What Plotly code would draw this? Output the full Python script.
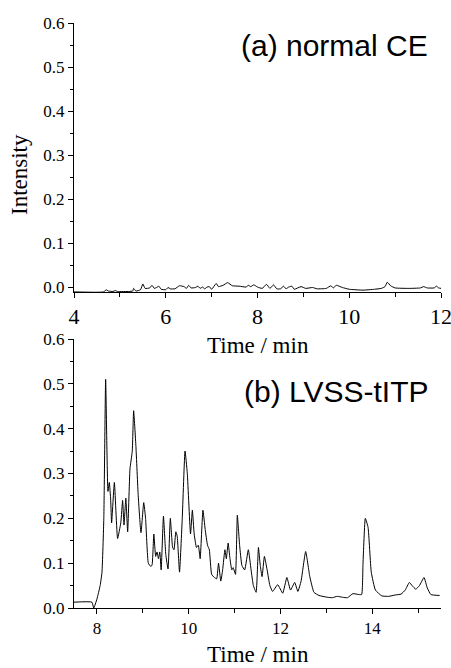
import plotly.graph_objects as go
from plotly.subplots import make_subplots

# (a) normal CE
time_a = [4.0, 4.65, 4.7, 4.75, 4.85, 4.9, 4.95, 5.2, 5.28, 5.3, 5.35, 5.45, 5.5, 5.55, 5.65, 5.7, 5.75, 5.8,
          5.85, 5.9, 6.0, 6.05, 6.1, 6.2, 6.3, 6.4, 6.45, 6.5, 6.55, 6.65, 6.7, 6.75, 6.8, 6.85, 6.9,
          6.95, 7.0, 7.1, 7.15, 7.25, 7.35, 7.45, 7.6, 7.75, 7.8, 7.85, 7.92, 8.0, 8.1, 8.2, 8.27,
          8.35, 8.42, 8.5, 8.57, 8.62, 8.68, 8.75, 8.8, 8.95, 9.05, 9.2, 9.3, 9.5, 9.6, 9.65, 9.72,
          9.85, 10.0, 10.3, 10.55, 10.7, 10.78, 10.83, 10.9, 11.0, 11.3, 11.55, 11.62, 11.7, 11.85,
          11.9, 11.95, 12.0]
int_a = [-0.010, -0.010, -0.005, -0.008, -0.009, -0.007, -0.009, -0.009, -0.008, -0.002, -0.008, -0.005, 0.008, -0.002, -0.001, 0.005, -0.002, 0.000,
         0.003, -0.004, -0.005, 0.000, -0.003, -0.003, 0.004, 0.002, -0.002, 0.005, -0.001, 0.000, 0.003, -0.002, 0.001, -0.003, 0.001,
         0.002, -0.004, 0.009, 0.002, 0.005, 0.011, 0.004, 0.003, 0.001, 0.005, 0.002, 0.006, 0.001, -0.002, 0.007, -0.002,
         0.006, -0.003, -0.003, 0.003, -0.003, 0.001, 0.003, -0.004, 0.002, -0.002, 0.000, -0.003, -0.002, 0.004, -0.001, 0.005,
         0.000, -0.004, -0.006, -0.004, -0.002, 0.002, 0.012, 0.004, -0.001, -0.002, -0.001, 0.002, -0.001, -0.001,
         0.003, -0.001, -0.002]

# (b) LVSS-tITP
time_b = [7.5, 7.89, 7.93, 8.0, 8.07, 8.11, 8.15, 8.19, 8.24, 8.27, 8.30, 8.32, 8.38, 8.45, 8.52, 8.56, 8.59, 8.63,
          8.67, 8.72, 8.77, 8.80, 8.85, 8.90, 8.96, 9.02, 9.06, 9.12, 9.17, 9.20, 9.24, 9.28, 9.31, 9.34,
          9.37, 9.40, 9.45, 9.50, 9.55, 9.60, 9.65, 9.68, 9.72, 9.75, 9.80, 9.86, 9.92, 9.97, 10.04,
          10.08, 10.12, 10.17, 10.21, 10.25, 10.31, 10.36, 10.41, 10.45, 10.50, 10.56, 10.61, 10.65,
          10.70, 10.74, 10.79, 10.82, 10.86, 10.90, 10.94, 10.97, 11.02, 11.06, 11.11, 11.16, 11.22,
          11.30, 11.36, 11.41, 11.47, 11.52, 11.56, 11.60, 11.65, 11.71, 11.77, 11.83, 11.94, 12.05,
          12.14, 12.22, 12.31, 12.38, 12.45, 12.55, 12.64, 12.73, 12.84, 13.02, 13.13, 13.24, 13.35,
          13.46, 13.58, 13.71, 13.77, 13.80, 13.85, 13.91, 13.98, 14.07, 14.21, 14.36, 14.50, 14.63,
          14.72, 14.81, 14.87, 14.95, 15.03, 15.13, 15.20, 15.28, 15.47]
int_b = [0.013, 0.013, 0.000, 0.020, 0.050, 0.080, 0.200, 0.510, 0.260, 0.280, 0.240, 0.190, 0.280, 0.155, 0.190, 0.240, 0.185, 0.245,
         0.170, 0.310, 0.350, 0.440, 0.360, 0.250, 0.168, 0.235, 0.200, 0.100, 0.093, 0.095, 0.165, 0.115, 0.125, 0.110,
         0.125, 0.085, 0.205, 0.120, 0.087, 0.200, 0.135, 0.130, 0.170, 0.160, 0.080, 0.200, 0.350, 0.300, 0.165,
         0.218, 0.165, 0.135, 0.140, 0.110, 0.218, 0.175, 0.140, 0.130, 0.075, 0.068, 0.065, 0.100,
         0.060, 0.085, 0.130, 0.110, 0.145, 0.110, 0.085, 0.090, 0.075, 0.207, 0.140, 0.095, 0.085,
         0.130, 0.085, 0.050, 0.035, 0.135, 0.095, 0.070, 0.115, 0.085, 0.050, 0.037, 0.052, 0.033,
         0.068, 0.040, 0.057, 0.037, 0.060, 0.126, 0.070, 0.035, 0.028, 0.024, 0.023, 0.026, 0.024,
         0.023, 0.032, 0.030, 0.030, 0.100, 0.200, 0.180, 0.080, 0.040, 0.027, 0.026, 0.029, 0.031,
         0.040, 0.057, 0.050, 0.042, 0.050, 0.068, 0.045, 0.030, 0.028]

y_ticks = [0.0, 0.1, 0.2, 0.3, 0.4, 0.5, 0.6]
y_tick_labels = ["0.0", "0.1", "0.2", "0.3", "0.4", "0.5", "0.6"]
x_ticks_a = [4, 6, 8, 10, 12]
x_ticks_b = [8, 10, 12, 14]

W, H = 451, 668
L, R, T, B = 74, 10, 23, 60

fig = make_subplots(rows=2, cols=1, vertical_spacing=0.0)
fig.add_trace(go.Scatter(x=time_a, y=int_a, mode="lines", line=dict(color="black", width=1, shape="spline", smoothing=0.4),
                         showlegend=False, hoverinfo="skip"), row=1, col=1)
fig.add_trace(go.Scatter(x=time_b, y=int_b, mode="lines", line=dict(color="black", width=1, shape="spline", smoothing=0.4),
                         showlegend=False, hoverinfo="skip"), row=2, col=1)

ph = H - T - B
top_dom = [(608 - 292) / ph, 1.0]
bot_dom = [0.0, (608 - 339) / ph]

serif = "Liberation Serif, Times New Roman, serif"
common_axis = dict(showline=True, linecolor="black", linewidth=1, showgrid=False, zeroline=False,
                   ticks="outside", ticklen=5, tickwidth=1, tickcolor="black", automargin=False,
                   ticklabeloverflow="allow")

fig.update_layout(
    width=W, height=H, margin=dict(l=L, r=R, t=T, b=B),
    plot_bgcolor="white", paper_bgcolor="white",
    xaxis=dict(**common_axis, range=[4, 12], tickvals=x_ticks_a, ticktext=[str(v) for v in x_ticks_a],
               tickfont=dict(family=serif, size=22, color="black"),
               minor=dict(dtick=1, ticks="outside", ticklen=4, tickcolor="black"), anchor="y"),
    yaxis=dict(**common_axis, range=[-0.0102, 0.6], domain=top_dom, tickvals=y_ticks, ticktext=y_tick_labels,
               tickfont=dict(family=serif, size=17, color="black"),
               minor=dict(dtick=0.05, ticks="outside", ticklen=3, tickcolor="black"), anchor="x"),
    xaxis2=dict(**common_axis, range=[7.5, 15.5], tickvals=x_ticks_b, ticktext=[str(v) for v in x_ticks_b],
                tickfont=dict(family=serif, size=17, color="black"),
                minor=dict(dtick=1, ticks="outside", ticklen=4, tickcolor="black"), anchor="y2"),
    yaxis2=dict(**common_axis, range=[0, 0.6], domain=bot_dom, tickvals=y_ticks, ticktext=y_tick_labels,
                tickfont=dict(family=serif, size=17, color="black"),
                minor=dict(dtick=0.05, ticks="outside", ticklen=3, tickcolor="black"), anchor="x2"),
)

def py(pix):
    return (H - B - pix) / ph

def px(pix):
    return (pix - L) / (W - L - R)

ann = [
    dict(text="(a) normal CE", x=px(430), y=py(46), xanchor="right", yanchor="middle",
         font=dict(family="Liberation Sans, Arial, sans-serif", size=30, color="black")),
    dict(text="(b) LVSS-tITP", x=px(430), y=py(391), xanchor="right", yanchor="middle",
         font=dict(family="Liberation Sans, Arial, sans-serif", size=30, color="black")),
    dict(text="Time / min", x=px(258), y=py(345), xanchor="center", yanchor="middle",
         font=dict(family=serif, size=23, color="black")),
    dict(text="Time / min", x=px(258), y=py(668), xanchor="center", yanchor="bottom",
         font=dict(family=serif, size=23, color="black"), borderpad=0),
    dict(text="Intensity", x=px(20), y=py(175), xanchor="center", yanchor="middle", textangle=-90,
         font=dict(family=serif, size=23, color="black")),
]
for a in ann:
    a.update(xref="paper", yref="paper", showarrow=False)
fig.update_layout(annotations=ann)

fig.write_html("out.html", config={"displayModeBar": False},
               post_script="document.body.style.margin='0';document.body.style.overflow='hidden';")
